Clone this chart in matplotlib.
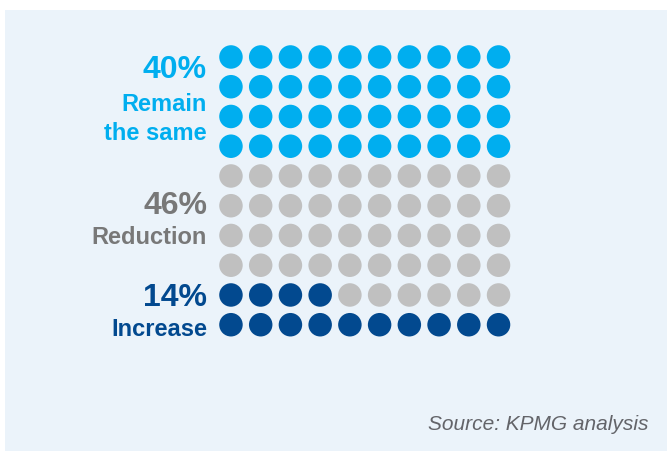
import matplotlib
matplotlib.use("Agg")
import matplotlib.pyplot as plt
from matplotlib.patches import Rectangle, Circle

# ---- data ----
categories = ["Remain the same", "Reduction", "Increase"]
values = [40, 46, 14]
pct_labels = ["40%", "46%", "14%"]
name_labels = [["Remain", "the same"], ["Reduction"], ["Increase"]]
source_text = "Source: KPMG analysis"

# ---- style ----
colors = ["#00AEEF", "#C0C0C0", "#02498F"]
label_colors = ["#00AEEF", "#787878", "#02498F"]
bg_color = "#EBF3FA"
n_rows, n_cols = 10, 10

W, H, DPI = 667, 451, 100
fig = plt.figure(figsize=(W / DPI, H / DPI), dpi=DPI, facecolor="white")

# background panel (pixel overlay axes)
ov = fig.add_axes([0, 0, 1, 1])
ov.set_xlim(0, W)
ov.set_ylim(H, 0)
ov.axis("off")
ov.add_patch(Rectangle((5, 10), W - 5, H - 10, facecolor=bg_color, edgecolor="none", zorder=0))

# waffle axes: cell centres at integer coords
left_px, right_px = 216.1, 513.4
top_px, bot_px = 42.1, 339.6
wax = fig.add_axes([left_px / W, 1 - bot_px / H, (right_px - left_px) / W, (bot_px - top_px) / H])
wax.set_xlim(-0.5, n_cols - 0.5)
wax.set_ylim(n_rows - 0.5, -0.5)
wax.axis("off")
wax.patch.set_alpha(0)

# fill order: from bottom row upwards, left to right; Increase first, then Reduction, then Remain
order = [2, 1, 0]
cell_cat = []
for ci in order:
    cell_cat += [ci] * values[ci]
for k, ci in enumerate(cell_cat):
    row = n_rows - 1 - k // n_cols
    col = k % n_cols
    wax.add_patch(Circle((col, row), 0.395, facecolor=colors[ci], edgecolor="none"))

# labels
font = "Liberation Sans"
x_txt = 207
pct_base = [78, 214, 306]
name_base = [[111, 140], [244], [336]]
for i in range(3):
    ov.text(x_txt, pct_base[i], pct_labels[i], ha="right", va="baseline", fontsize=23,
            fontweight="bold", color=label_colors[i], family=font)
    for line, yb in zip(name_labels[i], name_base[i]):
        ov.text(x_txt, yb, line, ha="right", va="baseline", fontsize=17,
                fontweight="bold", color=label_colors[i], family=font)

ov.text(648, 430, source_text, ha="right", va="baseline", fontsize=15, style="italic",
        color="#636469", family=font)

fig.savefig("out.png", dpi=DPI, facecolor="white")
